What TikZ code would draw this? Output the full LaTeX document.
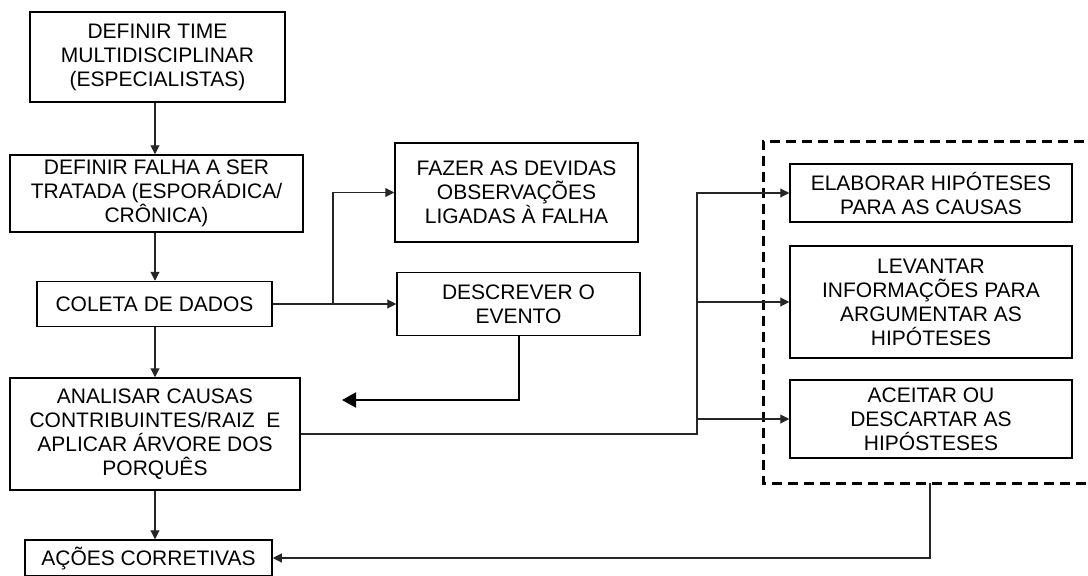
\documentclass[tikz,border=0pt]{standalone}
\usepackage{fontspec}
\setmainfont{Liberation Sans}
\usetikzlibrary{arrows.meta}
\begin{document}
\begin{tikzpicture}[x=1pt,y=-1pt,
  box/.style={draw=black,line width=1.5pt,inner sep=0pt,align=center,
    font=\fontsize{21}{24}\selectfont},
  arr/.style={draw=black!85,line width=1.1pt,-{Triangle[length=9pt,width=9pt]}},
  bigarr/.style={draw=black,line width=2pt,-{Triangle[length=14pt,width=15pt]}},
  dashbox/.style={draw=black,line width=3pt,dash pattern=on 10pt off 6pt}]
\useasboundingbox (0,0) rectangle (1088,576);
\node[box,minimum width=255pt,minimum height=90pt] (t) at (157.5,57) {DEFINIR TIME\\MULTIDISCIPLINAR\\(ESPECIALISTAS)};
\node[box,minimum width=293pt,minimum height=77pt] (f) at (156.5,193.5) {DEFINIR FALHA A SER\\TRATADA (ESPORÁDICA/\\CRÔNICA)};
\node[box,minimum width=235pt,minimum height=45pt] (c) at (154.5,304) {COLETA DE DADOS};
\node[box,minimum width=290pt,minimum height=112pt] (a) at (155,434) {ANALISAR CAUSAS\\CONTRIBUINTES/RAIZ~ E\\APLICAR ÁRVORE DOS\\PORQUÊS};
\node[box,minimum width=247pt,minimum height=36pt] (ac) at (148.5,558) {AÇÕES CORRETIVAS};
\node[box,minimum width=243pt,minimum height=99pt] (fz) at (516.5,192.5) {FAZER AS DEVIDAS\\OBSERVAÇÕES\\LIGADAS À FALHA};
\node[box,minimum width=243pt,minimum height=63pt] (d) at (518.5,304) {DESCREVER O\\EVENTO};
\node[box,minimum width=282pt,minimum height=58pt] (e) at (931,193) {ELABORAR HIPÓTESES\\PARA AS CAUSAS};
\node[box,minimum width=282pt,minimum height=112pt] (l) at (931,302) {LEVANTAR\\INFORMAÇÕES PARA\\ARGUMENTAR AS\\HIPÓTESES};
\node[box,minimum width=282pt,minimum height=78pt] (h) at (931,419) {ACEITAR OU\\DESCARTAR AS\\HIPÓSTESES};
\draw[dashbox] (1100,141) -- (763,141) -- (763,483) -- (1100,483);
\coordinate (dbot) at (930,483);
\coordinate (vx) at (155,0);
\coordinate (j1) at (333,304);
\coordinate (j2) at (697,434);
\coordinate (free) at (342,400);
\draw[arr] (vx |- t.south) -- (vx |- f.north);
\draw[arr] (vx |- f.south) -- (vx |- c.north);
\draw[arr] (vx |- c.south) -- (vx |- a.north);
\draw[arr] (vx |- a.south) -- (vx |- ac.north);
\draw[arr] (c.east) -- (j1) |- (fz.west);
\draw[arr] (j1) -- (d.west);
\draw[bigarr] (d.south) |- (free);
\draw[arr] (a.east) -- (j2) |- (e.west);
\draw[arr] (j2 |- l.west) -- (l.west);
\draw[arr] (j2 |- h.west) -- (h.west);
\draw[arr] (dbot) |- (ac.east);
\end{tikzpicture}
\end{document}
